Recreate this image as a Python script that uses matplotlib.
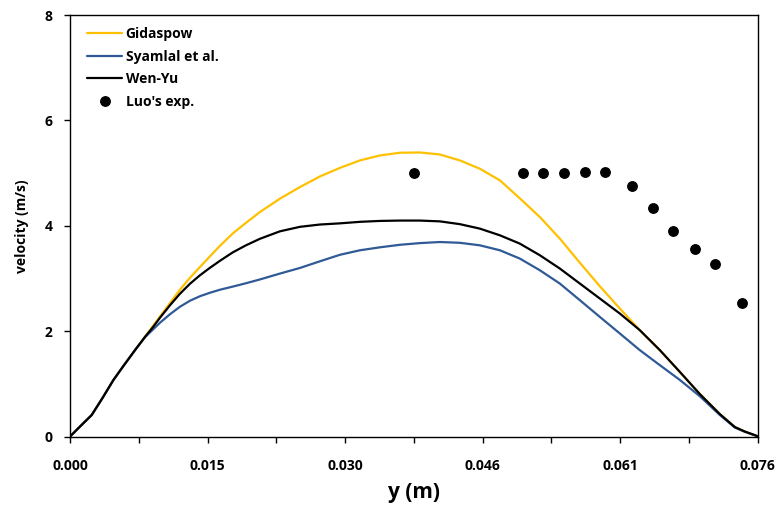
import matplotlib
matplotlib.use("Agg")
import matplotlib.pyplot as plt
from matplotlib.ticker import FixedLocator, FuncFormatter

# Radial position across the bed (m)
y_pos = [0.0, 0.00122, 0.00240, 0.00354, 0.00480, 0.00598, 0.00720, 0.00831,
         0.00923, 0.00997, 0.01108, 0.01218, 0.01329, 0.01440, 0.01551,
         0.01661, 0.01805, 0.01949, 0.02104, 0.02326, 0.02547, 0.02769,
         0.02990, 0.03212, 0.03433, 0.03655, 0.03876, 0.04098, 0.04319,
         0.04541, 0.04763, 0.04984, 0.05206, 0.05427, 0.05649, 0.05870,
         0.06092, 0.06313, 0.06535, 0.06756, 0.06978, 0.07199, 0.07366,
         0.07476, 0.07598, 0.07620]

# Simulated velocity profiles (m/s) for each drag model
gidaspow = [0.0, 0.209, 0.408, 0.715, 1.071, 1.355, 1.640, 1.892,
            2.108, 2.279, 2.535, 2.787, 3.014, 3.219, 3.422,
            3.621, 3.858, 4.057, 4.262, 4.516, 4.736, 4.938,
            5.100, 5.242, 5.336, 5.388, 5.393, 5.355, 5.242,
            5.084, 4.863, 4.521, 4.167, 3.757, 3.299, 2.853,
            2.430, 2.019, 1.640, 1.228, 0.806, 0.427, 0.180,
            0.095, 0.019, 0.0]
syamlal = [0.0, 0.209, 0.408, 0.715, 1.071, 1.355, 1.640, 1.886,
           2.038, 2.161, 2.322, 2.464, 2.578, 2.664, 2.730,
           2.787, 2.847, 2.910, 2.982, 3.094, 3.200, 3.327,
           3.450, 3.536, 3.592, 3.640, 3.672, 3.693, 3.678,
           3.630, 3.536, 3.378, 3.156, 2.904, 2.588, 2.271,
           1.956, 1.640, 1.355, 1.075, 0.765, 0.410, 0.170,
           0.090, 0.018, 0.0]
wen_yu = [0.0, 0.209, 0.408, 0.715, 1.071, 1.355, 1.640, 1.892,
          2.085, 2.256, 2.493, 2.711, 2.900, 3.062, 3.204,
          3.336, 3.498, 3.630, 3.754, 3.896, 3.981, 4.025,
          4.047, 4.076, 4.093, 4.100, 4.100, 4.085, 4.032,
          3.947, 3.820, 3.662, 3.441, 3.189, 2.904, 2.620,
          2.335, 2.019, 1.640, 1.228, 0.806, 0.427, 0.180,
          0.095, 0.019, 0.0]

# Experimental measurements (Luo)
exp_y = [0.03816, 0.05021, 0.05242, 0.05474, 0.05707, 0.05928, 0.06226,
         0.06459, 0.0668, 0.06923, 0.07144, 0.07443]
exp_v = [5.00, 5.00, 5.00, 5.00, 5.02, 5.02, 4.75, 4.33, 3.90, 3.56, 3.27, 2.53]

font = ["Open Sans", "DejaVu Sans"]
plt.rcParams["font.family"] = font

fig = plt.figure(figsize=(7.78, 5.05), dpi=100)
ax = fig.add_axes([0.090, 0.1356, 0.884, 0.8344])

line_kw = dict(lw=1.6, solid_joinstyle="round", solid_capstyle="round")
ax.plot(y_pos, gidaspow, color="#FFC000", label="Gidaspow", **line_kw)
ax.plot(y_pos, syamlal, color="#2F5A96", label="Syamlal et al.", **line_kw)
ax.plot(y_pos, wen_yu, color="black", label="Wen-Yu", **line_kw)
ax.plot(exp_y, exp_v, "o", color="black", ms=6.8, ls="none", label="Luo's exp.")

ax.set_xlim(0, 0.0762)
ax.set_ylim(0, 8)

xt = [i * 0.00762 for i in range(11)]
ax.xaxis.set_major_locator(FixedLocator(xt))
ax.xaxis.set_major_formatter(FuncFormatter(
    lambda v, p: f"{v:.3f}" if p is not None and p % 2 == 0 else ""))
ax.set_yticks([0, 2, 4, 6, 8])

ax.tick_params(direction="out", length=4.5, width=1, colors="black",
               labelsize=10)
for lab in ax.get_xticklabels() + ax.get_yticklabels():
    lab.set_fontweight("bold")
ax.tick_params(axis="x", pad=12)
ax.tick_params(axis="y", pad=8)

for s in ax.spines.values():
    s.set_linewidth(1.0)
    s.set_color("black")

ax.set_xlabel("y (m)", fontsize=15, fontweight="bold", labelpad=6)
ax.set_ylabel("velocity (m/s)", fontsize=10, fontweight="bold", labelpad=11)

ax.legend(loc="upper left", bbox_to_anchor=(0.009, 0.998), frameon=False,
          handlelength=2.5, handletextpad=0.25, labelspacing=0.62,
          borderaxespad=0.4, prop={"weight": "bold", "size": 10})

fig.savefig("out.png", dpi=100)
